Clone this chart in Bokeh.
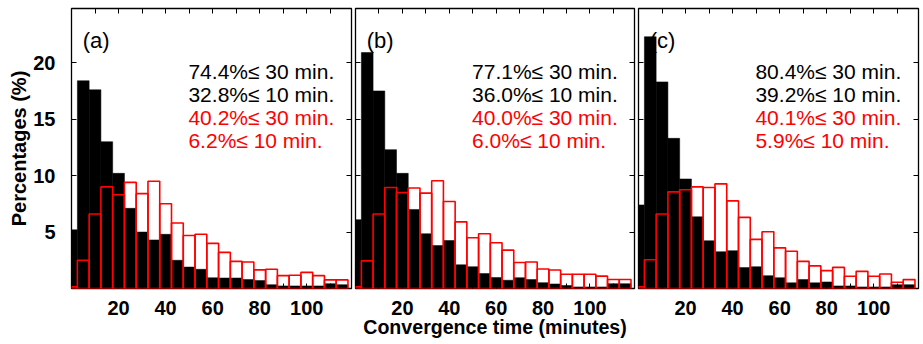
from bokeh.plotting import figure
from bokeh.layouts import row
from bokeh.models import LinearAxis, FixedTicker, Range1d, ColumnDataSource
from bokeh.core.properties import value
from bokeh.embed import file_html
from bokeh.resources import INLINE

# ---- data -------------------------------------------------------------
bin_centers = [0, 5, 10, 15, 20, 25, 30, 35, 40, 45, 50, 55,
               60, 65, 70, 75, 80, 85, 90, 95, 100, 105, 110, 115]
bin_width = 5

a_black = [5.2, 18.4, 17.6, 13.0, 10.2, 7.1, 5.0, 4.3, 4.8, 2.5, 1.9, 1.7,
           0.95, 0.93, 0.93, 0.8, 0.7, 0.34, 0.23, 0.23, 0.23, 0.23, 0.43, 0.34]
a_red = [0.15, 2.5, 6.6, 9.0, 8.3, 9.4, 8.4, 9.5, 7.5, 5.8, 4.7, 4.8,
         4.0, 3.2, 2.4, 2.35, 1.65, 1.7, 1.14, 1.17, 1.43, 1.14, 0.76, 0.76]

b_black = [6.1, 20.9, 17.5, 12.3, 10.2, 7.0, 4.85, 3.8, 4.25, 2.1, 1.93, 1.32,
           0.97, 0.73, 0.96, 0.79, 0.52, 0.4, 0.26, 0.14, 0.14, 0.14, 0.43, 0.43]
b_red = [0.15, 2.45, 6.6, 8.95, 8.5, 8.9, 8.45, 9.55, 7.7, 5.9, 4.5, 4.85,
         4.05, 3.4, 2.3, 2.35, 1.73, 1.64, 1.26, 1.26, 1.26, 1.1, 0.8, 0.8]

c_black = [7.4, 22.3, 18.3, 13.3, 9.7, 6.35, 4.23, 3.26, 3.35, 1.85, 1.93, 1.14,
           0.96, 0.5, 0.79, 0.5, 0.58, 0.23, 0.23, 0.14, 0.14, 0.14, 0.34, 0.34]
c_red = [0.15, 2.55, 6.6, 8.56, 8.74, 9.0, 8.94, 9.27, 7.76, 6.3, 4.35, 5.03,
         3.6, 3.3, 2.4, 2.0, 1.58, 1.87, 1.08, 1.52, 1.08, 1.29, 0.55, 0.79]

panel_labels = ["(a)", "(b)", "(c)"]
a_stats = ["74.4%\u2264 30 min.", "32.8%\u2264 10 min.", "40.2%\u2264 30 min.", "6.2%\u2264 10 min."]
b_stats = ["77.1%\u2264 30 min.", "36.0%\u2264 10 min.", "40.0%\u2264 30 min.", "6.0%\u2264 10 min."]
c_stats = ["80.4%\u2264 30 min.", "39.2%\u2264 10 min.", "40.1%\u2264 30 min.", "5.9%\u2264 10 min."]
stat_colors = ["black", "black", "#ff0000", "#ff0000"]

x_major_ticks = [20, 40, 60, 80, 100]
x_minor_ticks = [10, 30, 50, 70, 90, 110]
x_top_ticks = [10, 20, 30, 40, 50, 60, 70, 80, 90, 100, 110]
y_ticks = [5, 10, 15, 20]

x_label = "Convergence time (minutes)"
y_label = "Percentages (%)"

# ---- styling ----------------------------------------------------------
FONT = "Liberation Sans"
X_MAX = 119
Y_MAX = 24.8
FRAME_H = 280
STAT_X = 49.7
STAT_Y = [19.25, 17.19, 15.12, 13.07]
LABEL_X = 4.8
LABEL_Y = 22.0


def hidden_axis(ticks):
    ax = LinearAxis(ticker=FixedTicker(ticks=ticks))
    ax.major_tick_in = 5
    ax.major_tick_out = 0
    ax.minor_tick_in = 0
    ax.minor_tick_out = 0
    ax.major_label_text_color = None
    ax.major_label_text_font_size = "1px"
    ax.major_label_standoff = 0
    ax.axis_line_color = None
    ax.major_tick_line_color = "black"
    return ax


def make_panel(idx, black, red, stats, frame_w, first, middle):
    p = figure(frame_width=frame_w, frame_height=FRAME_H,
               x_range=Range1d(0, X_MAX), y_range=Range1d(0, Y_MAX),
               output_backend="svg", toolbar_location=None,
               min_border_left=71 if first else 2, min_border_right=2,
               min_border_top=8, min_border_bottom=0,
               background_fill_color="white", border_fill_color="white")
    p.xgrid.visible = False
    p.ygrid.visible = False
    p.outline_line_color = "black"
    p.outline_line_width = 1.3

    # bottom axis
    xa = p.xaxis[0]
    xa.ticker = FixedTicker(ticks=x_major_ticks, minor_ticks=x_minor_ticks)
    xa.major_tick_in = 5
    xa.major_tick_out = 0
    xa.minor_tick_in = 5
    xa.minor_tick_out = 0
    xa.axis_line_color = None
    xa.major_label_text_font = FONT
    xa.major_label_text_font_size = "20px"
    xa.major_label_text_font_style = "bold"
    xa.major_label_text_color = "black"
    xa.major_label_standoff = 12
    if middle:
        xa.axis_label = x_label
        xa.axis_label_text_font = FONT
        xa.axis_label_text_font_size = "19.6px"
        xa.axis_label_text_font_style = "bold"
        xa.axis_label_text_color = "black"
        xa.axis_label_standoff = -2

    # left axis
    ya = p.yaxis[0]
    ya.ticker = FixedTicker(ticks=y_ticks)
    ya.major_tick_in = 5
    ya.major_tick_out = 0
    ya.minor_tick_in = 0
    ya.minor_tick_out = 0
    ya.axis_line_color = None
    if first:
        ya.major_label_text_font = FONT
        ya.major_label_text_font_size = "20px"
        ya.major_label_text_font_style = "bold"
        ya.major_label_text_color = "black"
        ya.major_label_standoff = 16
        ya.axis_label = y_label
        ya.axis_label_text_font = FONT
        ya.axis_label_text_font_size = "20px"
        ya.axis_label_text_font_style = "bold"
        ya.axis_label_text_color = "black"
        ya.axis_label_standoff = 0
    else:
        ya.major_label_text_color = None
        ya.major_label_text_font_size = "1px"
        ya.major_label_standoff = 0

    p.add_layout(hidden_axis(x_top_ticks), "above")
    p.add_layout(hidden_axis(y_ticks), "right")

    src = ColumnDataSource(dict(x=bin_centers, black=black, red=red))
    p.vbar(x="x", top="black", bottom=0, width=bin_width, source=src,
           fill_color="black", line_color="black", line_width=0.5)
    p.vbar(x="x", top="red", bottom=0, width=bin_width, source=src,
           fill_color=None, line_color="#ff0000", line_width=1.6)

    tsrc = ColumnDataSource(dict(x=[STAT_X] * len(stats), y=STAT_Y,
                                 text=stats, color=stat_colors))
    p.text(x="x", y="y", text="text", text_color="color", source=tsrc,
           text_font=value(FONT), text_font_size="21px",
           text_align="left", text_baseline="alphabetic")
    p.text(x=[LABEL_X], y=[LABEL_Y], text=[panel_labels[idx]],
           text_color="black", text_font=value(FONT), text_font_size="22px",
           text_align="left", text_baseline="alphabetic")
    return p


pa = make_panel(0, a_black, a_red, a_stats, 280, True, False)
pb = make_panel(1, b_black, b_red, b_stats, 279, False, True)
pc = make_panel(2, c_black, c_red, c_stats, 280, False, False)

layout = row(pa, pb, pc)
open("out.html", "w").write(file_html(layout, INLINE))
